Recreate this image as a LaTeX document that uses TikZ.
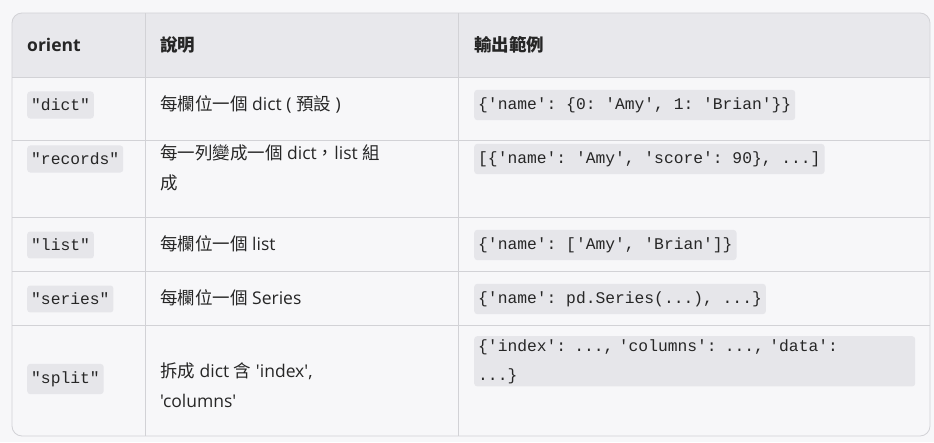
\documentclass[tikz,border=0pt]{standalone}
\usepackage{fontspec}
\setmainfont{Open Sans}[Ligatures=TeXOff]
\newfontfamily\cjk{Noto Sans CJK TC}
\setmonofont{Liberation Mono}
\begin{document}
\begin{tikzpicture}[x=1pt,y=-1pt,
  txt/.style={anchor=west,inner sep=0pt,font=\fontsize{17.5}{30}\selectfont,text=black!85},
  hd/.style={txt,font=\fontsize{17.5}{30}\selectfont\bfseries},
  code/.style={anchor=west,fill=codebg,rounded corners=3pt,inner xsep=4pt,inner ysep=7.5pt,font=\ttfamily\fontsize{16.3}{29}\selectfont,text=black!85},
  grid/.style={draw=linec,line width=0.8pt}]
\definecolor{pagebg}{HTML}{F7F7F9}
\definecolor{hdbg}{HTML}{E8E8EC}
\definecolor{codebg}{HTML}{E6E6EA}
\definecolor{linec}{HTML}{D2D2D6}
\fill[pagebg] (0,0) rectangle (934,442);
\useasboundingbox (0,0) rectangle (934,442);
\begin{scope}
\clip[rounded corners=10pt] (12,13) rectangle (930,436);
\fill[hdbg] (12,13) rectangle (930,77);
\end{scope}
\draw[grid,rounded corners=10pt] (12,13) rectangle (930,436);
\foreach \y in {77,140,217,271,325} \draw[grid] (12,\y) -- (930,\y);
\foreach \x in {145,458} \draw[grid] (\x,13) -- (\x,436);
% header
\node[hd] (h1) at (27,45) {orient};
\node[hd] (h2) at (160,45) {\cjk 說明};
\node[hd] (h3) at (474,45) {\cjk 輸出範例};
% row1
\node[code] (a1) at (27,105) {"dict"};
\node[txt] (b1) at (160,104) {{\cjk 每欄位一個} dict ( {\cjk 預設} )};
\node[code] (c1) at (474,105) {\{'name': \{0: 'Amy', 1: 'Brian'\}\}};
% row2
\node[code] (a2) at (27,159) {"records"};
\node[txt,anchor=north west,align=left] (b2) at (160,144) {{\cjk 每一列變成一個} dict{\cjk ，}list {\cjk 組}\\{\cjk 成}};
\node[code] (c2) at (474,159) {[\{'name': 'Amy', 'score': 90\}, ...]};
% row3
\node[code] (a3) at (27,245) {"list"};
\node[txt] (b3) at (160,244) {{\cjk 每欄位一個} list};
\node[code] (c3) at (474,245) {\{'name': ['Amy', 'Brian']\}};
% row4
\node[code] (a4) at (27,299) {"series"};
\node[txt] (b4) at (160,298) {{\cjk 每欄位一個} Series};
\node[code] (c4) at (474,299) {\{'name': pd.Series(...), ...\}};
% row5
\node[code] (a5) at (27,379) {"split"};
\node[txt,anchor=north west,align=left] (b5) at (160,363) {{\cjk 拆成} dict {\cjk 含} 'index',\\'columns'};
\node[code,anchor=north west,text width=433pt,align=left,inner ysep=3pt] (c5) at (474,336) {\{'index': ..., 'columns': ..., 'data':\\...\}};
\end{tikzpicture}
\end{document}
